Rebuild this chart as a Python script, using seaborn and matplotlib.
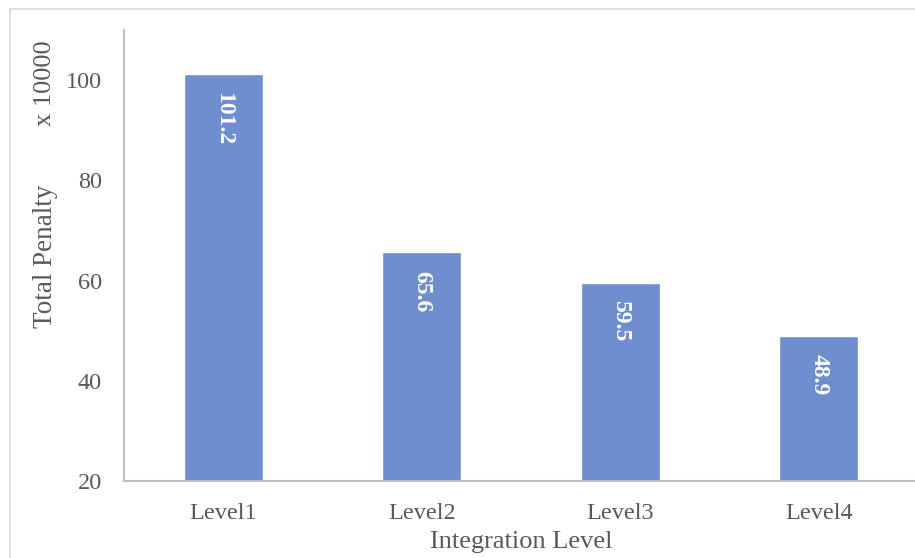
import matplotlib
matplotlib.use("Agg")
import matplotlib.pyplot as plt
import matplotlib.patches as mpatches
import seaborn as sns
import pandas as pd

levels = ["Level1", "Level2", "Level3", "Level4"]
penalty = [101.2, 65.6, 59.5, 48.9]
y_ticks = [20, 40, 60, 80, 100]

sns.set_theme(style="white")
plt.rcParams["font.family"] = ["Liberation Serif", "DejaVu Serif"]

text_gray = "#595959"
bar_color = "#6E8ECF"

df = pd.DataFrame({"level": levels, "penalty": penalty})

fig = plt.figure(figsize=(9.15, 5.58), dpi=100)
ax = fig.add_axes([124 / 915, 1 - 481 / 558, (918 - 124) / 915, (481 - 30) / 558])

sns.barplot(data=df, x="level", y="penalty", color=bar_color, width=0.4,
            saturation=1, ax=ax, bottom=0)

ax.set_ylim(20, 110)
ax.set_xlim(-0.5, 3.5)
ax.set_yticks(y_ticks)
ax.tick_params(axis="both", length=0, labelsize=17.5, colors=text_gray)
ax.tick_params(axis="y", pad=16)
ax.tick_params(axis="x", pad=16)

for side in ["top", "right"]:
    ax.spines[side].set_visible(False)
for side in ["left", "bottom"]:
    ax.spines[side].set_color("#BFBFBF")
    ax.spines[side].set_linewidth(1.5)

ax.set_xlabel("Integration Level", fontsize=19, color=text_gray, labelpad=5)
ax.set_ylabel("")
fig.text(45 / 915, 1 - 256 / 558, "Total Penalty", rotation=90, fontsize=19.5,
         color=text_gray, ha="center", va="center")
fig.text(45 / 915, 1 - 83 / 558, "x 10000", rotation=90, fontsize=19,
         color=text_gray, ha="center", va="center")

for i, v in enumerate(penalty):
    ax.annotate(f"{v:.1f}", xy=(i, v), xytext=(0, -13), textcoords="offset points",
                rotation=-90, ha="center", va="top", color="white",
                fontsize=17, fontweight="bold")

# light frame around the chart area
fig.patches.append(mpatches.Rectangle((10 / 915, -0.1), 1.1, 1 - 9 / 558 + 0.1,
                                      transform=fig.transFigure, fill=False,
                                      edgecolor="#D9D9D9", linewidth=1.2))

fig.savefig("out.png", dpi=100)
